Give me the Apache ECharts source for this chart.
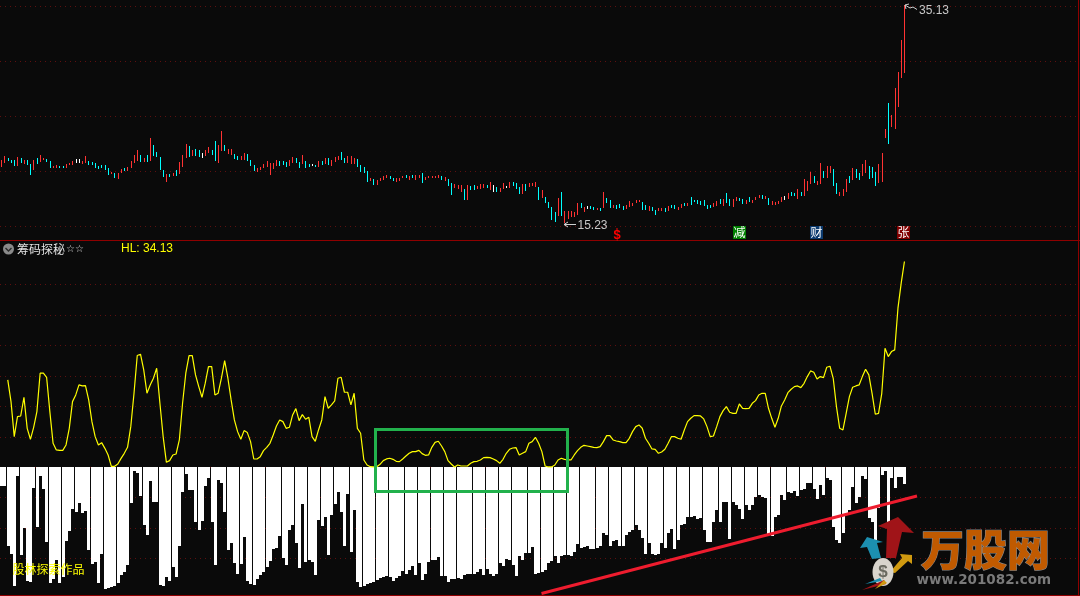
<!DOCTYPE html>
<html>
<head>
<meta charset="utf-8">
<style>html,body{margin:0;padding:0;background:#0a0a0a}#c{width:1080px;height:596px}</style>
<script src="https://cdn.jsdelivr.net/npm/echarts@6/dist/echarts.min.js"></script>
</head>
<body>
<div id="c"></div>
<script>
const highPrices = [
21.00,21.37,21.19,21.00,21.00,21.28,21.19,21.00,21.00,20.64,
21.00,21.19,21.46,21.19,21.09,20.91,20.46,20.55,20.46,20.46,
20.64,20.73,20.91,21.09,21.09,20.91,21.37,20.91,20.82,20.73,
20.46,20.55,20.55,20.28,19.91,19.82,19.82,20.19,20.28,20.37,
20.91,21.46,21.91,21.46,21.19,21.46,23.00,22.37,21.73,21.28,
20.09,19.73,19.73,19.82,20.09,20.82,21.46,22.46,22.28,21.91,
22.00,21.91,21.64,21.91,22.19,21.91,22.73,22.37,23.64,22.37,
22.00,22.00,21.55,21.37,21.37,21.64,21.55,21.00,20.55,20.28,
20.37,20.64,20.91,20.73,20.73,21.00,20.91,20.91,20.82,21.00,
21.28,21.19,20.82,21.46,20.91,20.64,20.64,20.55,20.91,20.91,
21.19,21.19,21.00,21.28,21.37,21.73,21.19,21.37,21.37,21.19,21.09,
20.55,20.36,20.00,19.36,19.27,19.18,19.36,19.55,19.64,
19.55,19.36,19.36,19.36,19.55,19.64,19.55,19.64,19.64,19.64,
19.82,19.45,19.55,19.55,19.55,19.64,19.55,19.45,19.27,18.91,
18.82,18.73,18.73,18.36,18.73,18.64,18.73,18.64,18.82,18.82,
18.73,19.00,18.73,18.55,18.45,18.91,18.64,19.00,19.00,18.91,
18.55,18.82,18.82,18.91,18.91,19.00,18.55,18.27,17.64,17.18,
16.73,16.27,17.55,18.09,16.36,16.36,16.36,16.27,17.09,17.09,
16.73,16.82,16.82,16.73,16.64,16.64,18.09,17.55,17.36,16.91,
16.91,17.00,16.82,16.91,17.27,17.09,17.36,17.36,17.18,16.91,
16.82,16.73,16.45,16.64,16.64,16.64,16.82,16.91,16.91,16.73,
17.00,17.09,17.09,17.64,17.36,17.36,17.27,17.36,16.91,16.91,
17.09,17.27,17.45,17.45,18.00,17.45,17.45,17.64,17.55,17.45,
17.36,17.64,17.36,17.64,17.82,17.82,17.73,17.55,17.27,17.18,
17.27,17.64,17.73,18.00,18.09,18.00,18.36,18.09,19.27,19.09,
19.91,19.55,19.09,20.73,20.00,20.45,20.45,20.18,18.91,18.09,
18.36,19.27,19.55,20.27,20.18,19.82,20.64,21.00,20.45,20.36,
19.91,20.64,21.64,23.82,26.18,25.09,27.55,29.00,31.91,35.13];
const lowPrices = [
20.37,20.70,20.91,20.70,20.46,20.46,20.70,20.64,20.55,19.64,
20.09,20.64,20.86,21.00,20.86,20.28,20.28,20.28,20.28,20.28,
20.28,20.52,20.55,20.73,20.73,20.64,20.73,20.55,20.55,20.28,
20.19,20.28,20.09,19.64,19.73,19.37,19.28,19.82,20.00,20.00,
20.28,20.73,20.91,20.82,20.82,20.82,20.91,21.37,21.28,20.09,
19.46,19.00,19.46,19.55,19.55,19.73,20.37,21.19,21.28,21.37,
21.37,21.28,21.19,21.37,21.64,21.46,20.91,20.73,21.82,21.82,
21.55,21.46,21.09,21.00,21.00,21.00,20.91,20.46,20.00,19.91,
20.09,20.28,20.37,19.64,20.19,20.46,20.46,20.55,20.37,20.46,
20.73,20.73,20.28,20.64,20.28,20.37,20.46,20.37,20.37,20.55,
20.64,20.55,20.46,20.82,21.00,21.00,20.73,20.73,20.64,20.64,20.37,
19.91,19.82,19.00,19.09,18.73,18.73,19.09,19.18,19.36,
19.27,19.09,19.00,19.09,19.36,19.36,19.18,19.36,19.18,19.36,
18.91,19.18,19.36,19.36,19.36,19.36,19.18,19.09,18.64,17.82,
18.45,18.36,18.09,17.36,17.36,18.27,18.27,18.36,18.36,18.45,
18.45,18.27,18.09,18.09,18.09,18.36,18.45,18.45,18.64,18.36,
17.91,17.91,18.18,18.55,18.64,18.55,17.36,17.55,17.09,16.64,
15.55,15.36,15.91,15.91,15.23,15.64,15.82,15.82,16.00,16.64,
16.27,16.55,16.55,16.45,16.45,16.36,16.64,17.09,16.64,16.64,
16.55,16.64,16.45,16.55,16.73,16.82,17.09,17.18,16.45,16.45,
16.36,16.36,16.00,16.36,16.36,16.27,16.36,16.64,16.55,16.45,
16.64,16.82,16.82,16.91,17.18,17.00,16.91,16.82,16.55,16.64,
16.73,16.82,17.00,16.82,17.09,16.82,16.73,17.27,17.27,17.00,
17.00,17.18,17.09,17.36,17.55,17.45,17.45,16.91,16.91,16.91,
17.00,17.18,17.36,17.45,17.73,17.73,17.45,17.73,17.73,18.18,
18.82,18.91,18.73,18.82,19.36,19.36,19.82,18.64,17.91,17.73,
17.73,18.09,18.91,19.18,19.36,19.18,19.55,19.82,19.27,19.36,
18.64,18.91,19.00,23.00,22.45,24.00,23.82,25.82,28.45,28.91];
const candleKinds = [
"uudddududd","uduudduudd","uuuwwuuddd","dddduduudu","uuudududdd",
"dududuuudu","ddwuudduud","uudduudddu","uuuuuudddu","udduddwdud",
"uduuudduuud","ddduduuuu",
"dduuududuu","duuuuududd","uuududduuu","duwduuwudd","duduuududd",
"dduduuuuud","uwddududdu","ddduuuuudd","udduududdu","ududdddddd",
"uududduudd","uduuududuu","uuwudduduu","uduuduuddu","uududduudd","duuuduuuuu"
].join("");
const hlStartIndex = 2;
const hlValues = [
14.49,10.89,5.08,8.40,8.51,11.61,6.46,4.64,6.63,9.23,15.60,15.60,14.93,9.23,3.97,2.87,2.81,2.81,3.70,6.46,
10.89,12.00,13.66,13.49,13.55,11.17,7.57,5.08,3.70,4.08,3.14,2.04,0.16,0.16,0.54,1.48,2.31,3.31,6.74,12.28,
18.53,18.75,16.15,12.28,13.66,14.77,16.43,10.62,5.08,0.82,1.10,2.04,2.20,4.53,10.62,15.60,18.53,18.53,15.32,13.38,
11.61,13.94,16.70,16.70,12.00,12.28,14.77,17.70,14.77,11.17,7.85,5.91,4.64,6.08,5.75,4.25,1.37,1.37,1.76,2.76,
3.31,3.97,5.36,6.85,7.85,7.57,6.46,6.63,8.68,9.73,7.74,8.73,7.96,8.29,5.08,4.31,6.19,7.85,11.72,9.79,
10.34,11.00,14.77,14.93,12.44,12.44,10.34,12.28,6.46,
5.64,1.21,0.38,0.10,0.05,0.10,0.49,1.10,1.38,1.49,1.32,0.99,0.93,1.38,1.87,2.32,2.59,2.59,2.81,2.26,
1.98,2.04,3.31,4.14,4.31,3.53,2.59,1.10,0.54,0.05,0.38,0.21,0.21,0.21,0.66,0.93,0.99,1.21,1.60,1.65,
1.60,1.38,1.10,0.66,1.32,2.32,2.98,3.20,3.26,2.04,2.32,2.59,3.98,4.25,4.97,3.98,2.59,0.21,0.05,0.05,
0.38,1.21,1.49,1.32,1.21,1.21,2.04,2.76,3.31,3.64,3.53,3.42,3.31,3.26,3.42,4.25,5.25,5.25,4.53,4.36,
4.25,4.09,4.09,4.81,5.91,6.74,7.02,6.47,4.81,3.98,3.04,2.98,2.32,2.54,2.98,3.98,5.08,5.08,4.81,4.64,
6.19,7.57,8.13,8.57,8.57,8.51,8.02,6.74,5.08,5.19,6.74,
8.40,9.40,10.06,9.12,8.95,8.95,10.50,9.78,9.73,9.78,10.61,11.06,12.00,12.27,12.27,9.78,8.12,6.63,8.12,10.17,
11.17,12.38,12.94,13.38,13.49,13.21,13.93,15.04,15.98,15.76,14.65,15.04,14.87,16.59,16.76,14.76,10.06,6.46,6.19,8.95,
11.72,13.27,13.49,13.66,15.04,16.26,15.32,12.27,8.79,8.95,12.27,19.74,18.36,19.19,19.47,26.39,30.54,34.13];
const chipValues = [
-3.11,-3.11,-13.01,-14.45,-19.71,-1.45,-14.56,-10.14,-18.88,-18.99,-3.50,-9.86,-1.45,-3.61,-12.35,-19.16,-18.55,-15.39,-19.16,-18.27,
-12.24,-10.58,-6.98,-7.43,-5.93,-7.54,-7.26,-13.73,-16.06,-15.73,-19.16,-14.40,-20.21,-20.10,-19.88,-19.71,-19.21,-17.88,-17.44,-16.22,
-5.93,-0.62,-0.95,-4.77,-9.58,-11.24,-2.28,-5.76,-5.76,-19.54,-19.71,-18.22,-18.88,-16.56,-18.22,-13.07,-4.10,-1.12,-3.77,-3.77,
-9.09,-10.41,-8.92,-3.11,-1.78,-9.09,-16.22,-2.11,-2.61,-7.43,-13.73,-12.57,-15.89,-17.72,-16.06,-11.58,-18.88,-19.38,-19.54,-18.55,
-17.88,-17.39,-16.56,-15.56,-13.57,-13.40,-11.41,-15.06,-16.22,-10.41,-9.58,-12.57,-16.72,-6.10,-15.73,-15.39,-15.73,-17.88,-8.75,-9.75,
-8.26,-14.56,-7.92,-6.10,-4.10,-7.43,-13.07,-4.44,-14.07,-7.09,-19.05,
-19.82,-19.71,-19.38,-19.27,-19.10,-18.71,-18.44,-18.16,-18.05,-18.27,-18.82,-18.44,-18.05,-17.16,-17.72,-17.05,-16.39,-17.88,-15.95,
-18.71,-17.72,-15.72,-15.39,-15.39,-14.89,-18.05,-18.05,-19.05,-18.55,-18.55,-18.38,-18.55,-17.88,-17.72,-17.72,-17.72,-17.39,-16.89,-17.88,
-16.89,-17.72,-18.05,-17.72,-15.89,-16.39,-15.23,-15.39,-16.22,-18.05,-14.73,-15.39,-14.29,-14.18,-13.23,-17.72,-17.61,-17.39,-17.05,-15.84,
-15.61,-14.73,-15.89,-14.73,-14.56,-14.56,-14.73,-14.01,-12.74,-13.40,-13.29,-13.07,-13.57,-13.57,-13.40,-13.07,-10.91,-11.24,-13.07,-12.24,
-12.07,-13.07,-13.07,-11.24,-10.74,-10.41,-9.58,-10.41,-11.80,-14.40,-12.57,-14.40,-14.56,-14.40,-12.57,-13.40,-10.91,-10.25,-13.57,-12.07,
-9.58,-9.42,-8.25,-8.25,-8.09,-8.59,-8.42,-10.41,-12.40,-12.40,-9.08,-7.09,
-9.03,-5.82,-5.82,-11.91,-5.82,-6.27,-6.98,-8.59,-6.27,-7.10,-6.27,-4.88,-4.60,-4.88,-5.16,-11.25,-11.41,-8.20,-7.93,-4.60,
-5.44,-4.11,-4.33,-3.89,-4.77,-3.77,-3.66,-2.56,-2.56,-3.66,-5.27,-2.94,-4.60,-1.84,-2.11,-9.86,-12.08,-12.52,-10.97,-7.93,
-7.10,-3.33,-5.99,-4.99,-1.45,-1.89,-8.48,-9.03,-12.08,-6.82,-1.28,-0.68,-9.31,-1.84,-3.44,-1.56,-1.56,-2.78];
const indicatorName = "筹码探秘";
const signals = [{t:"减",x:733,bg:"#008000"},{t:"财",x:810,bg:"#0b3a6e"},{t:"张",x:897,bg:"#800000"}];

const KIND_COLOR = {u:"#ff3333",d:"#00ffff",w:"#ffffff"};
const candleData = highPrices.map((h,i)=>[i,h,lowPrices[i]]);
const chipData = chipValues.map((v,i)=>[i,v]);
const hlData = hlValues.map((v,i)=>[i+hlStartIndex,v]);
const topPrice = Math.max(...highPrices);
const bottomPrice = Math.min(...lowPrices);
const lastHL = hlValues[hlValues.length-1];

const DOT = {color:"#5e0f0f",type:[1,4],width:1};
const CJK = '"Noto Sans CJK SC"';
const lat = '"Liberation Sans"';
function T(text,x,y,fill,font,extra,z){return {type:"text",z:z||100,style:Object.assign({text,x,y,fill,font,textVerticalAlign:"middle"},extra||{})};}
function L(x1,y1,x2,y2,stroke,w){return {type:"line",z:100,shape:{x1,y1,x2,y2},style:{stroke,lineWidth:w}};}
function P(points,fill){return {type:"polygon",z:101,shape:{points},style:{fill}};}
const DIV="#8f0000";

const graphics = [
  L(0,240.5,1080,240.5,DIV,1), L(0,595.5,1080,595.5,DIV,1), L(1078.5,0,1078.5,596,DIV,1),
  L(564,224.5,576,224.5,"#d0d0d0",1), L(564,224.5,568,222,"#d0d0d0",1), L(564,224.5,568,227,"#d0d0d0",1),
  T(bottomPrice.toFixed(2),577.5,225.5,"#c8c8c8",'12px '+lat),
  {type:"polyline",z:100,shape:{points:[[905,5],[910,8],[913,7],[917,9.5]]},style:{stroke:"#d0d0d0",lineWidth:1,fill:null}},
  L(905,5,909,4,"#d0d0d0",1), L(905,5,906,9,"#d0d0d0",1),
  T(topPrice.toFixed(2),919,10.5,"#c8c8c8",'12px '+lat),
  T("$",617,235,"#ff0000",'bold 13px '+lat,{textAlign:"center"}),
  L(617,228,617,231,"#ff0000",1),
  ...signals.flatMap(s=>[
    {type:"rect",z:100,shape:{x:s.x,y:226,width:13,height:13},style:{fill:s.bg}},
    T(s.t,s.x+6.5,232.5,"#ffffff",'12px '+CJK,{textAlign:"center"},101)
  ]),
  {type:"circle",z:100,shape:{cx:8.5,cy:249,r:5.5},style:{fill:"#8a8a8a"}},
  {type:"polyline",z:101,shape:{points:[[5.5,248],[8.5,251],[11.5,248]]},style:{stroke:"#2a2a2a",lineWidth:1.4,fill:null}},
  T(indicatorName,17,249,"#e6e6e6",'12px '+CJK),
  T("☆☆",66,249.5,"#d8d8d8",'10px "DejaVu Sans"'),
  T("HL: "+lastHL.toFixed(2),121,249,"#ffff00",'12px '+lat),
  T("股林探索作品",12.5,569.5,"#ffff00",'12px '+CJK),
  {type:"rect",z:100,shape:{x:375.5,y:429.5,width:192,height:62},style:{stroke:"#22b14c",lineWidth:3,fill:null}},
  L(541.5,593.5,917,496,"#ee1c2e",3),
  P([[878,526],[898,517],[914,533],[902,532],[896,558],[886,558],[887,529]],"#a01418"),
  P([[860,548],[867,537],[883,542],[877,543],[881,558],[872,559],[867,547]],"#1c8fb0"),
  P([[890,572],[902,558],[900,554],[912,555],[912,564],[908,561],[895,573]],"#d09a10"),
  {type:"ellipse",z:102,shape:{cx:883,cy:572,rx:10.5,ry:14},style:{fill:"#d8d4cc"}},
  T("$",883,572,"#6a6a60",'bold 17px '+lat,{textAlign:"center"},103),
  {type:"polygon",z:102,shape:{points:[[862,590],[884,580],[886,584]]},style:{fill:"#a01418"}},
  {type:"polygon",z:102,shape:{points:[[865,584],[880,578],[882,581]]},style:{fill:"#1c8fb0"}},
  {type:"polygon",z:102,shape:{points:[[875,589],[884,580],[887,583]]},style:{fill:"#d09a10"}},
  T("万股网",921,550,"#c05a00",'900 43px '+CJK,{stroke:"#8a8a8a",lineWidth:1.2}),
  T("www.201082.com",916.5,580.5,"#7a7a7a",'bold 13.5px "DejaVu Sans"')
];

const chart = echarts.init(document.getElementById("c"),null,{renderer:"canvas"});
chart.setOption({
  animation:false,
  backgroundColor:"#0a0a0a",
  grid:[
    {left:0,top:6,width:1076,height:220},
    {left:0,top:284.6,width:1076,height:274}
  ],
  xAxis:[
    {type:"value",gridIndex:0,min:-0.4,max:332,show:false},
    {type:"value",gridIndex:1,min:-0.4,max:332,show:false}
  ],
  yAxis:[
    {type:"value",gridIndex:0,min:15,max:35,interval:5,axisLine:{show:false},axisTick:{show:false},axisLabel:{show:false},splitLine:{show:true,lineStyle:DOT}},
    {type:"value",gridIndex:1,min:-15.15,max:30.3,interval:5.05,axisLine:{show:false},axisTick:{show:false},axisLabel:{show:false},splitLine:{show:true,lineStyle:DOT}}
  ],
  series:[
    {type:"custom",xAxisIndex:0,yAxisIndex:0,data:candleData,encode:{x:0,y:[1,2]},z:3,silent:true,
     renderItem(params,api){
       const i=api.value(0),a=api.coord([i,api.value(1)]),b=api.coord([i,api.value(2)]);
       const x=Math.floor(a[0]-0.7)+1,y1=Math.round(a[1]),y2=Math.round(b[1]);
       return {type:"rect",shape:{x,y:y1,width:1,height:Math.max(1,y2-y1)},style:{fill:KIND_COLOR[candleKinds[i]]}};
     }},
    {type:"custom",xAxisIndex:1,yAxisIndex:1,data:chipData,encode:{x:0,y:1},z:3,silent:true,
     renderItem(params,api){
       const i=api.value(0),z=api.coord([i,0]),b=api.coord([i,api.value(1)]);
       const x=Math.floor(z[0]-0.7),y1=Math.round(z[1]),y2=Math.round(b[1]);
       return {type:"rect",shape:{x,y:y1,width:3,height:y2-y1},style:{fill:"#ffffff"}};
     }},
    {type:"line",xAxisIndex:1,yAxisIndex:1,data:hlData,showSymbol:false,clip:false,z:4,silent:true,
     lineStyle:{color:"#ffff00",width:1.2}}
  ],
  graphic:{elements:graphics}
});
</script>
</body>
</html>
